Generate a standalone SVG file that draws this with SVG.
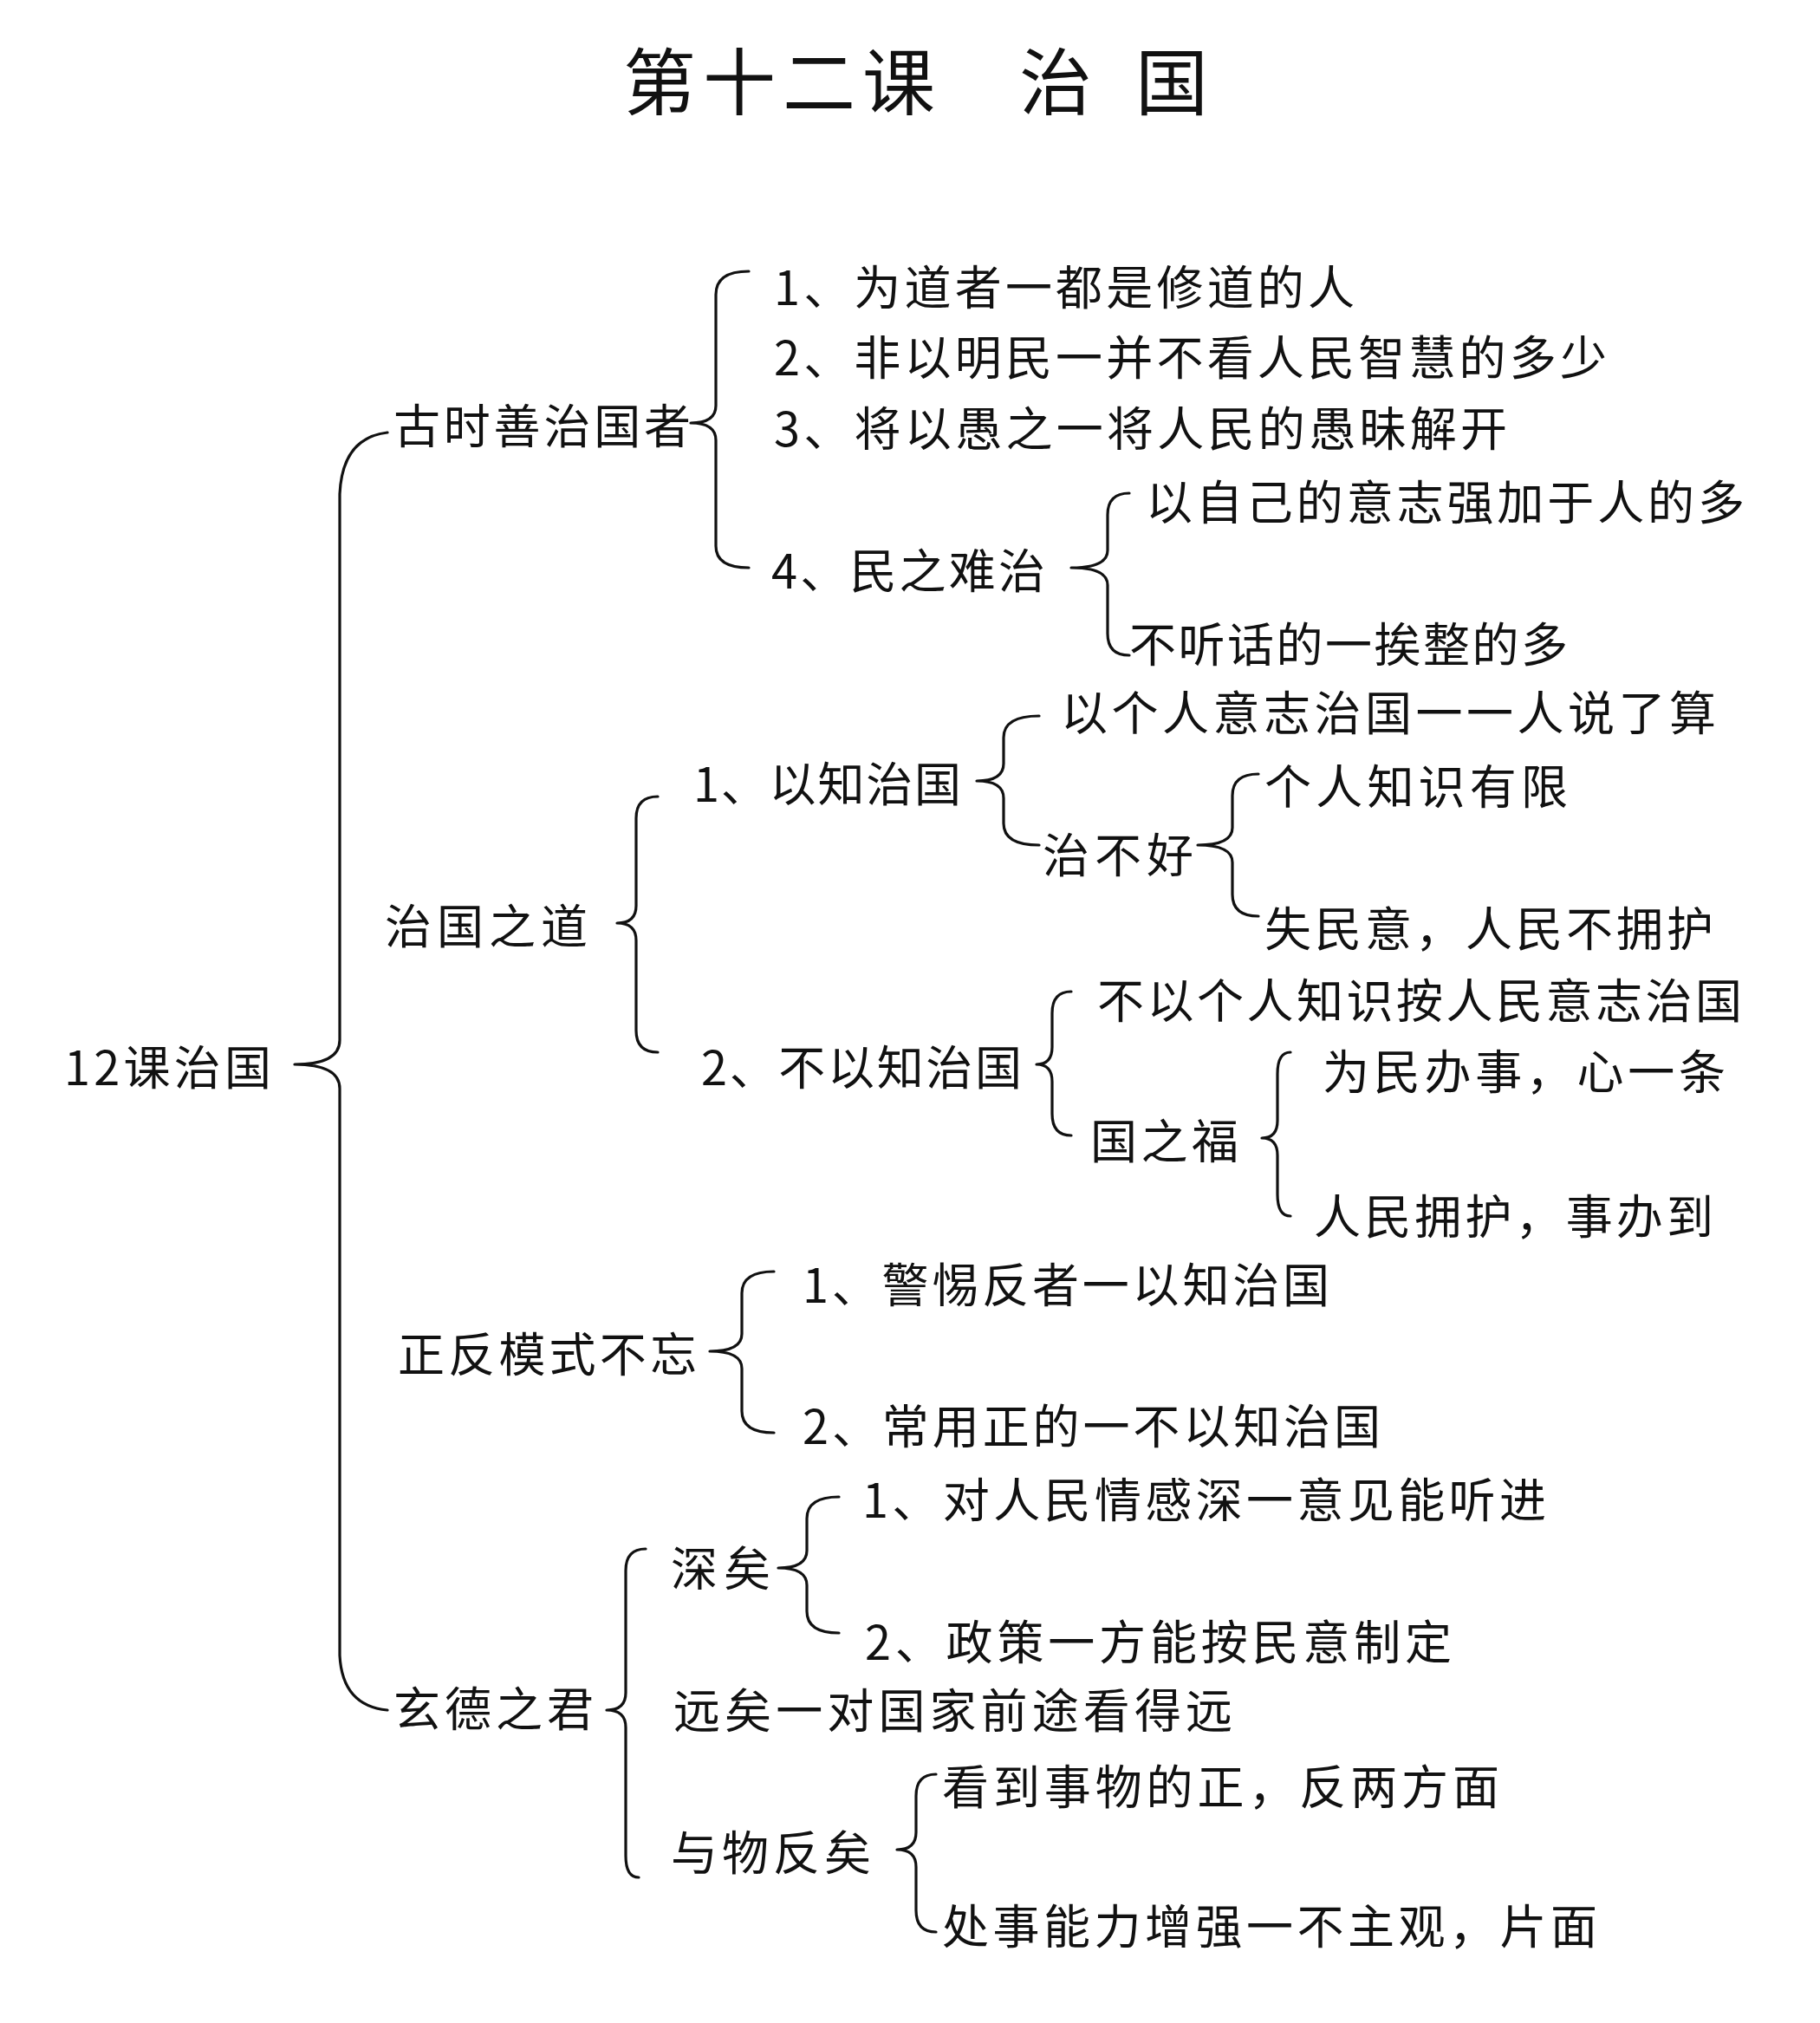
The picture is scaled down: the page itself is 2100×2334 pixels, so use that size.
<svg xmlns="http://www.w3.org/2000/svg" width="2100" height="2334" viewBox="0 0 2100 2334">
<style>
text{font-family:"Noto Sans CJK SC","Noto Sans CJK TC",sans-serif;fill:#111;dominant-baseline:central}
.t{font-size:54px}
.title{font-size:84px;letter-spacing:8px}
.br{fill:none;stroke:#111;stroke-width:3.2;stroke-linecap:round;stroke-linejoin:round}
</style>
<rect width="2100" height="2334" fill="#fff"/>
<g id="title"><text class="title" x="719" y="89" xml:space="preserve">第十二课　<tspan x="1176">治 </tspan><tspan x="1310">国</tspan></text></g>
<g id="connectors">
<path class="br" d="M447,499 Q395,505 392,570 L392,1200 Q392,1228 340,1228 Q392,1228 392,1256 L392,1910 Q395,1968 447,1973"/>
<path class="br" d="M864,313 Q826,313 826,340 L826,468 Q826,488 797,488 Q826,488 826,508 L826,630 Q826,655 864,655"/>
<path class="br" d="M1303,569 Q1278,569 1278,594 L1278,635 Q1278,655 1236,655 Q1278,655 1278,675 L1278,731 Q1278,756 1303,756"/>
<path class="br" d="M759,919 Q734,919 734,944 L734,1045 Q734,1065 712,1065 Q734,1065 734,1085 L734,1189 Q734,1214 759,1214"/>
<path class="br" d="M1199,826 Q1158,826 1158,851 L1158,881 Q1158,901 1127,901 Q1158,901 1158,921 L1158,950 Q1158,975 1199,975"/>
<path class="br" d="M1452,893 Q1422,893 1422,918 L1422,955 Q1422,975 1382,975 Q1422,975 1422,995 L1422,1032 Q1422,1057 1452,1057"/>
<path class="br" d="M1236,1144 Q1214,1144 1214,1169 L1214,1208 Q1214,1228 1196,1228 Q1214,1228 1214,1248 L1214,1285 Q1214,1310 1236,1310"/>
<path class="br" d="M1489,1214 Q1474,1214 1474,1239 L1474,1293 Q1474,1313 1456,1313 Q1474,1313 1474,1333 L1474,1378 Q1474,1403 1489,1403"/>
<path class="br" d="M893,1467 Q856,1467 856,1492 L856,1539 Q856,1559 819,1559 Q856,1559 856,1579 L856,1628 Q856,1653 893,1653"/>
<path class="br" d="M745,1787 Q722,1787 722,1812 L722,1953 Q722,1973 700,1973 Q722,1973 722,1993 L722,2141 Q722,2166 737,2166"/>
<path class="br" d="M968,1727 Q931,1727 931,1752 L931,1789 Q931,1809 898,1809 Q931,1809 931,1829 L931,1859 Q931,1884 968,1884"/>
<path class="br" d="M1080,2047 Q1057,2047 1057,2072 L1057,2114 Q1057,2134 1035,2134 Q1057,2134 1057,2154 L1057,2204 Q1057,2229 1080,2229"/>
</g>
<g id="n-root"><text class="t" x="74" y="1228" textLength="239" lengthAdjust="spacing">12课治国</text></g>
<g id="n-gushi"><text class="t" x="454" y="488" textLength="343" lengthAdjust="spacing">古时善治国者</text></g>
<g id="n-g1"><text class="t" x="893" y="328" textLength="670" lengthAdjust="spacing">1、为道者一都是修道的人</text></g>
<g id="n-g2"><text class="t" x="893" y="409" textLength="961" lengthAdjust="spacing">2、非以明民一并不看人民智慧的多少</text></g>
<g id="n-g3"><text class="t" x="893" y="491" textLength="846" lengthAdjust="spacing">3、将以愚之一将人民的愚昧解开</text></g>
<g id="n-g4"><text class="t" x="890" y="655" textLength="316" lengthAdjust="spacing">4、民之难治</text></g>
<g id="n-g4a"><text class="t" x="1322" y="576" textLength="691" lengthAdjust="spacing">以自己的意志强加于人的多</text></g>
<g id="n-g4b"><text class="t" x="1303" y="740" textLength="506" lengthAdjust="spacing">不听话的一挨整的多</text></g>
<g id="n-zhiguo"><text class="t" x="444" y="1065" textLength="234" lengthAdjust="spacing">治国之道</text></g>
<g id="n-z1"><text class="t" x="800" y="901" textLength="309" lengthAdjust="spacing">1、以知治国</text></g>
<g id="n-z1a"><text class="t" x="1224" y="819" textLength="756" lengthAdjust="spacing">以个人意志治国一一人说了算</text></g>
<g id="n-z1b"><text class="t" x="1203" y="983" textLength="174" lengthAdjust="spacing">治不好</text></g>
<g id="n-z1b1"><text class="t" x="1459" y="904" textLength="350" lengthAdjust="spacing">个人知识有限</text></g>
<g id="n-z1b2"><text class="t" x="1459" y="1068" textLength="518" lengthAdjust="spacing">失民意，人民不拥护</text></g>
<g id="n-z2"><text class="t" x="809" y="1228" textLength="370" lengthAdjust="spacing">2、不以知治国</text></g>
<g id="n-z2a"><text class="t" x="1266" y="1151" textLength="744" lengthAdjust="spacing">不以个人知识按人民意志治国</text></g>
<g id="n-z2b"><text class="t" x="1258" y="1313" textLength="171" lengthAdjust="spacing">国之福</text></g>
<g id="n-z2b1"><text class="t" x="1526" y="1233" textLength="465" lengthAdjust="spacing">为民办事，心一条</text></g>
<g id="n-z2b2"><text class="t" x="1516" y="1400" textLength="461" lengthAdjust="spacing">人民拥护，事办到</text></g>
<g id="n-zhengfan"><text class="t" x="459" y="1559" textLength="345" lengthAdjust="spacing">正反模式不忘</text></g>
<g id="n-f1"><text class="t" x="926" y="1479" textLength="608" lengthAdjust="spacing">1、警惕反者一以知治国</text></g>
<g id="n-f2"><text class="t" x="926" y="1642" textLength="667" lengthAdjust="spacing">2、常用正的一不以知治国</text></g>
<g id="n-xuande"><text class="t" x="454" y="1968" textLength="231" lengthAdjust="spacing">玄德之君</text></g>
<g id="n-shen"><text class="t" x="774" y="1806" textLength="115" lengthAdjust="spacing">深矣</text></g>
<g id="n-s1"><text class="t" x="995" y="1727" textLength="789" lengthAdjust="spacing">1、对人民情感深一意见能听进</text></g>
<g id="n-s2"><text class="t" x="998" y="1891" textLength="677" lengthAdjust="spacing">2、政策一方能按民意制定</text></g>
<g id="n-yuan"><text class="t" x="777" y="1970" textLength="645" lengthAdjust="spacing">远矣一对国家前途看得远</text></g>
<g id="n-yuwu"><text class="t" x="774" y="2134" textLength="231" lengthAdjust="spacing">与物反矣</text></g>
<g id="n-y1"><text class="t" x="1087" y="2058" textLength="643" lengthAdjust="spacing">看到事物的正，反两方面</text></g>
<g id="n-y2"><text class="t" x="1087" y="2219" textLength="756" lengthAdjust="spacing">处事能力增强一不主观，片面</text></g>
</svg>
